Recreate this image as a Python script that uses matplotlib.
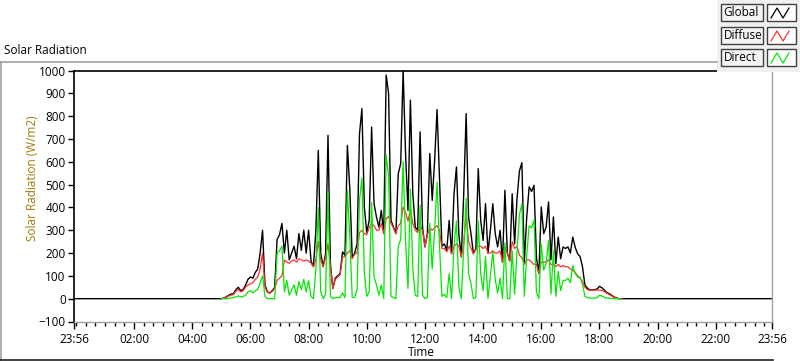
import numpy as np
import matplotlib.pyplot as plt
from matplotlib.patches import Rectangle
from matplotlib.lines import Line2D

# 5-minute samples from 05:00 to 18:45 (W/m2)
start_hour = 5.0
step_min = 5

global_rad = [
    0, 3, 8, 15, 20, 22, 40, 50, 35, 40,
    60, 85, 95, 90, 115, 130, 200, 300, 60, 30,
    25, 35, 50, 260, 280, 330, 200, 300, 170, 200,
    230, 175, 285, 212, 300, 200, 300, 165, 140, 300,
    650, 200, 140, 197, 716, 153, 45, 90, 100, 110,
    205, 190, 672, 480, 180, 200, 240, 723, 833, 400,
    290, 343, 752, 416, 358, 314, 387, 285, 980, 899,
    343, 314, 285, 548, 592, 1000, 636, 387, 870, 460,
    314, 300, 731, 314, 227, 285, 636, 431, 607, 829,
    533, 230, 240, 212, 343, 197, 460, 577, 280, 183,
    460, 811, 358, 285, 197, 220, 570, 343, 255, 416,
    200, 300, 416, 285, 227, 300, 160, 475, 200, 165,
    460, 240, 440, 560, 596, 160, 358, 490, 470, 497,
    180, 110, 402, 285, 314, 424, 170, 358, 153, 270,
    175, 227, 220, 227, 200, 270, 225, 197, 185, 140,
    60, 46, 39, 38, 40, 42, 54, 48, 38, 27,
    22, 15, 8, 3, 0, 0,
]

diffuse_rad = [
    0, 2, 6, 12, 15, 18, 32, 40, 30, 35,
    50, 60, 65, 70, 85, 95, 130, 200, 50, 28,
    24, 32, 45, 80, 90, 100, 170, 160, 155, 165,
    170, 160, 175, 170, 165, 170, 165, 155, 140, 170,
    250, 170, 140, 180, 240, 140, 45, 85, 95, 105,
    180, 185, 200, 210, 175, 195, 200, 290, 300, 285,
    280, 310, 330, 320, 300, 300, 330, 285, 350, 360,
    330, 310, 285, 320, 330, 400, 380, 340, 390, 330,
    300, 290, 320, 300, 227, 280, 310, 300, 310, 320,
    300, 220, 220, 205, 230, 197, 230, 240, 230, 183,
    240, 370, 250, 220, 197, 215, 230, 230, 220, 230,
    200, 200, 210, 200, 200, 210, 160, 230, 200, 165,
    250, 220, 230, 190, 180, 150, 170, 170, 160, 150,
    150, 110, 160, 160, 160, 170, 150, 150, 140, 150,
    140, 145, 140, 140, 130, 125, 115, 100, 90, 75,
    50, 40, 37, 36, 38, 38, 37, 36, 32, 24,
    18, 12, 6, 2, 0, 0,
]

direct_rad = [
    0, 0, 0, 2, 3, 4, 8, 12, 8, 10,
    15, 30, 35, 25, 35, 40, 70, 100, 10, 0,
    0, 0, 0, 200, 210, 230, 30, 80, 15, 40,
    60, 15, 75, 40, 85, 30, 80, 10, 0, 130,
    400, 30, 0, 20, 470, 10, 0, 5, 5, 5,
    25, 5, 475, 270, 5, 5, 40, 430, 530, 115,
    10, 30, 420, 95, 60, 15, 60, 0, 630, 540,
    10, 5, 0, 230, 260, 600, 255, 45, 480, 130,
    15, 10, 410, 15, 0, 5, 330, 130, 300, 510,
    235, 10, 20, 5, 110, 0, 230, 340, 50, 0,
    220, 440, 110, 65, 0, 5, 340, 110, 35, 185,
    0, 100, 205, 85, 25, 90, 0, 245, 0, 0,
    210, 20, 210, 370, 415, 10, 190, 320, 310, 345,
    30, 0, 240, 125, 155, 255, 20, 210, 10, 120,
    35, 80, 80, 90, 70, 145, 110, 95, 95, 65,
    10, 5, 2, 2, 2, 4, 15, 12, 6, 3,
    2, 1, 0, 0, 0, 0,
]

series_names = ['Global', 'Diffuse', 'Direct']
series_colors = ['#000000', '#FF3030', '#00E800']

x_tick_labels = ['23:56', '02:00', '04:00', '06:00', '08:00', '10:00', '12:00',
                 '14:00', '16:00', '18:00', '20:00', '22:00', '23:56']

t_start = -4 / 60.0
t_end = 24 - 4 / 60.0
hours = start_hour + np.arange(len(global_rad)) * step_min / 60.0

plt.rcParams['font.family'] = ['Open Sans', 'DejaVu Sans']

W, H = 800, 361
fig = plt.figure(figsize=(W / 100, H / 100), dpi=100)
fig.patch.set_facecolor('white')

def fx(px):
    return px / W

def fy(py):
    return 1 - py / H

ax = fig.add_axes([fx(74), fy(321.5), fx(772) - fx(74), fy(70.5) - fy(321.5)])

# global line spans the whole day (zero at night)
tg = np.concatenate([[t_start], hours, [t_end]])
gg = np.concatenate([[0], global_rad, [0]])
ax.plot(tg, gg, color=series_colors[0], lw=1.0)
ax.plot(hours, diffuse_rad, color=series_colors[1], lw=0.9)
ax.plot(hours, direct_rad, color=series_colors[2], lw=0.9)

ax.set_xlim(t_start, t_end)
ax.set_ylim(-100, 1000)
ax.set_yticks(range(-100, 1001, 100))
major = [t_start] + list(range(2, 23, 2)) + [t_end]
ax.set_xticks(major)
ax.set_xticklabels(x_tick_labels)
minor = [m / 3 for m in range(0, 72) if (m / 3) not in major]
ax.set_xticks(minor, minor=True)
ax.tick_params(axis='both', labelsize=8.5, colors='#000000')
ax.tick_params(axis='y', length=4, width=1, pad=2)
ax.tick_params(axis='x', which='major', length=5, width=1, pad=3)
ax.tick_params(axis='x', which='minor', length=3, width=1)

for s in ['left', 'top']:
    ax.spines[s].set_color('black')
    ax.spines[s].set_linewidth(1.2)
for s in ['right', 'bottom']:
    ax.spines[s].set_color('#A0A0A0')
    ax.spines[s].set_linewidth(1.0)

# outer frame
fig.add_artist(Line2D([fx(0), fx(717)], [fy(62), fy(62)], color='#A0A0A0', lw=1.2))
fig.add_artist(Line2D([fx(0.8), fx(0.8)], [fy(62), fy(360)], color='#A0A0A0', lw=1.2))
fig.add_artist(Line2D([fx(0), fx(773)], [fy(360), fy(360)], color='#202020', lw=1.2))

fig.text(fx(4), fy(50), 'Solar Radiation', fontsize=8.5, va='center', ha='left')
fig.text(fx(33), fy(178), 'Solar Radiation (W/m2)', fontsize=8.5, rotation=90,
         va='center', ha='center', color='#A07800')
fig.text(fx(421), fy(353), 'Time', fontsize=8.5, va='center', ha='center')

# legend panel
fig.add_artist(Rectangle((fx(717), fy(72)), fx(800) - fx(717), fy(0) - fy(72),
                         facecolor='#F0F0F0', edgecolor='none'))
rows_y = [4, 27, 49]
for name, col, ry in zip(series_names, series_colors, rows_y):
    fig.add_artist(Rectangle((fx(721), fy(ry + 17)), fx(763) - fx(721), fy(ry) - fy(ry + 17),
                             facecolor='#F4F4F4', edgecolor='#404040', lw=1))
    fig.text(fx(723.5), fy(ry + 8.5), name, fontsize=8.5, va='center', ha='left')
    fig.add_artist(Rectangle((fx(767), fy(ry + 17)), fx(796) - fx(767), fy(ry) - fy(ry + 17),
                             facecolor='white', edgecolor='#404040', lw=1))
    zx = [771, 777, 783, 789]
    zy = [ry + 14, ry + 4, ry + 14, ry + 4]
    fig.add_artist(Line2D([fx(v) for v in zx], [fy(v) for v in zy], color=col, lw=0.9))

fig.savefig('out.png', dpi=100)
